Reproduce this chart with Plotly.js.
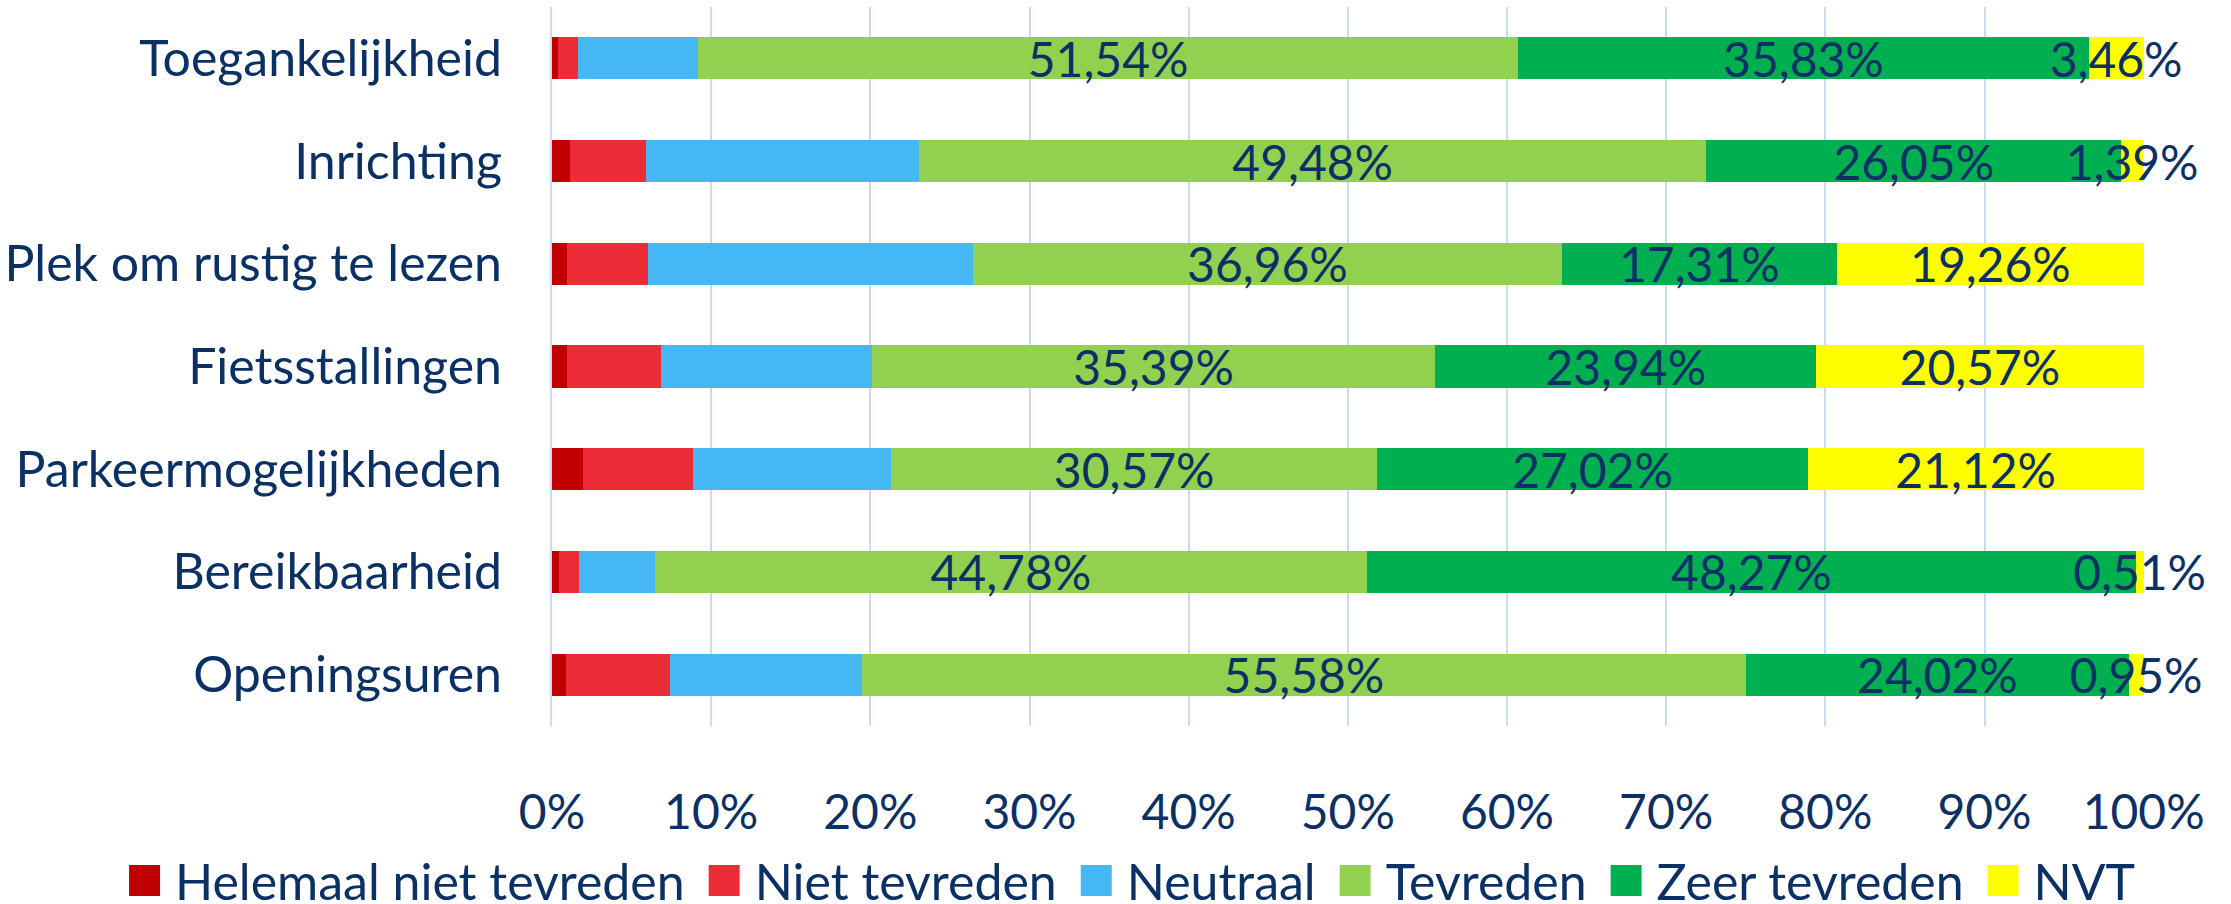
<!DOCTYPE html>
<html>
<head>
<meta charset="utf-8">
<script src="https://cdn.plot.ly/plotly-3.0.1.min.js"></script>
<style>
  html, body { margin: 0; padding: 0; background: #ffffff; }
  #chart { width: 2231px; height: 904px; }
</style>
</head>
<body>
<div id="chart"></div>
<script>
// ---- Data (percentages) ----
const categories = ['Toegankelijkheid', 'Inrichting', 'Plek om rustig te lezen', 'Fietsstallingen', 'Parkeermogelijkheden', 'Bereikbaarheid', 'Openingsuren'];
const seriesNames = ['Helemaal niet tevreden', 'Niet tevreden', 'Neutraal', 'Tevreden', 'Zeer tevreden', 'NVT'];
const helemaalNietTevreden = [0.35, 1.10, 0.95, 0.95, 1.95, 0.42, 0.88];
const nietTevreden = [1.30, 4.80, 5.08, 5.90, 6.90, 1.30, 6.53];
const neutraal = [7.52, 17.15, 20.44, 13.25, 12.44, 4.72, 12.04];
const tevreden = [51.54, 49.48, 36.96, 35.39, 30.57, 44.78, 55.58];
const zeerTevreden = [35.83, 26.05, 17.31, 23.94, 27.02, 48.27, 24.02];
const nvt = [3.46, 1.39, 19.26, 20.57, 21.12, 0.51, 0.95];
const xTickValues = [0, 10, 20, 30, 40, 50, 60, 70, 80, 90, 100];

// ---- Styling ----
const colors = ['#C00000', '#EC2D38', '#45B8F4', '#92D050', '#00B050', '#FFFF00'];
const labelled = [false, false, false, true, true, true];
const textColor = '#0B3066';
const fontFamily = 'Lato, "Open Sans", sans-serif';
const numSize = 48;
const wordSize = 50;
const gridColor = '#C5DCF3';
const legendSymbolPx = 31;

const allValues = [helemaalNietTevreden, nietTevreden, neutraal, tevreden, zeerTevreden, nvt];
const fmt = v => v.toFixed(2).replace('.', ',') + '%';

const traces = allValues.map((vals, i) => ({
  type: 'bar',
  orientation: 'h',
  name: seriesNames[i],
  y: categories,
  x: vals,
  width: 0.41,
  marker: { color: colors[i], line: { width: 0 } },
  text: labelled[i] ? vals.map(fmt) : null,
  textposition: labelled[i] ? 'inside' : 'none',
  insidetextanchor: 'middle',
  textangle: 0,
  constraintext: 'none',
  cliponaxis: false,
  textfont: { family: fontFamily, size: numSize, color: textColor },
  hoverinfo: 'name+x'
}));

const layout = {
  width: 2231,
  height: 904,
  barmode: 'stack',
  paper_bgcolor: '#ffffff',
  plot_bgcolor: '#ffffff',
  margin: { l: 552, r: 87, t: 7, b: 178, pad: 0, autoexpand: false },
  font: { family: fontFamily, size: wordSize, color: textColor },
  xaxis: {
    range: [0, 100.02],
    tickvals: xTickValues,
    ticktext: xTickValues.map(v => v + '%'),
    showgrid: true,
    gridcolor: gridColor,
    gridwidth: 2,
    zeroline: false,
    showline: false,
    ticks: '',
    ticklabelstandoff: 54,
    tickfont: { family: fontFamily, size: numSize, color: textColor },
    fixedrange: true
  },
  yaxis: {
    type: 'category',
    autorange: 'reversed',
    showgrid: false,
    zeroline: false,
    showline: true,
    linecolor: gridColor,
    linewidth: 2,
    ticks: '',
    ticklabelstandoff: 38,
    tickfont: { family: fontFamily, size: wordSize, color: textColor },
    fixedrange: true
  },
  showlegend: true,
  legend: {
    orientation: 'h',
    traceorder: 'normal',
    x: -0.2776,
    xanchor: 'left',
    y: -0.2150,
    yanchor: 'middle',
    itemwidth: 55,
    font: { family: fontFamily, size: wordSize, color: textColor },
    bgcolor: 'rgba(0,0,0,0)',
    itemclick: false,
    itemdoubleclick: false
  }
};

Plotly.newPlot('chart', traces, layout, { displayModeBar: false, staticPlot: true }).then(() => {
  document.querySelectorAll('#chart .legend .legendpoints path').forEach(p => {
    const bb = p.getBBox();
    const s = bb.width > 0 ? legendSymbolPx / bb.width : 2.6;
    const t = p.getAttribute('transform') || '';
    p.setAttribute('transform', t + ' translate(2,0) scale(' + s.toFixed(3) + ')');
  });
});
</script>
</body>
</html>
